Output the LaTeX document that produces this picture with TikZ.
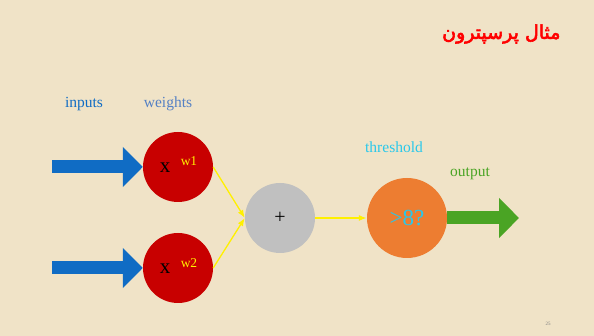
\documentclass[tikz,border=0pt]{standalone}
\usepackage{fontspec}
\setmainfont{Liberation Serif}
\newfontfamily\arabicfont[Script=Arabic,FakeBold=3]{DejaVu Sans}
\TeXXeTstate=1
\usetikzlibrary{arrows.meta,positioning}

\definecolor{paper}{RGB}{240,227,199}
\definecolor{inblue}{RGB}{16,108,196}
\definecolor{wblue}{RGB}{84,128,196}
\definecolor{neuronred}{RGB}{200,0,0}
\definecolor{sumgray}{RGB}{192,192,192}
\definecolor{threshorange}{RGB}{237,125,49}
\definecolor{threshcyan}{RGB}{40,200,235}
\definecolor{outgreen}{RGB}{74,164,36}
\definecolor{wyellow}{RGB}{255,240,0}

\begin{document}
\begin{tikzpicture}[x=1pt, y=1pt,
weight/.style={circle, fill=neuronred, minimum size=70pt, inner sep=0pt},
sum/.style={circle, fill=sumgray, minimum size=70pt, inner sep=0pt, font=\fontsize{20}{20}\selectfont},
thresh/.style={circle, fill=threshorange, minimum size=80pt, inner sep=0pt,
    text=threshcyan, font=\fontsize{23}{23}\selectfont},
caption/.style={font=\fontsize{15.5}{16}\selectfont},
bigarrow/.style={line width=13pt, -{Triangle[length=20pt,width=39pt]}},
wire/.style={draw=wyellow, line width=1.3pt, -{Latex[length=8pt,width=6pt]}}
]
\fill[paper] (0,0) rectangle (594,336);
\useasboundingbox (0,0) rectangle (594,336);

% title
\node[anchor=east, text=red, font=\fontsize{19}{19}\selectfont\arabicfont] (title) at (564,302)
    {\beginR مثال پرسپترون\endR};

% neurons
\node[weight] (w1) at (178,169) {};
\node[weight] (w2) at (178,68) {};
\node[sum] (sum) at (280,118) {+};
\node[thresh] (th) at (407,118) {>8?};

\node[font=\fontsize{21}{21}\selectfont] (x1) at (165,168) {x};
\node[font=\fontsize{21}{21}\selectfont] (x2) at (165,67) {x};
\node[text=wyellow, font=\fontsize{13.5}{14}\selectfont] (l1) at (189,175) {w1};
\node[text=wyellow, font=\fontsize{13.5}{14}\selectfont] (l2) at (189,73) {w2};

% labels
\node[caption, text=inblue] (inputs) at (84,232) {inputs};
\node[caption, text=wblue] (weights) at (168,232) {weights};
\node[caption, text=threshcyan] (threshold) at (394,189) {threshold};
\node[caption, text=outgreen] (output) at (470,162) {output};

% inputs and output
\coordinate (in1) at (52,169);
\coordinate (in2) at (52,68);
\coordinate (out) at (519,118);
\draw[bigarrow, inblue] (in1) -- (w1.west);
\draw[bigarrow, inblue] (in2) -- (w2.west);
\draw[bigarrow, outgreen] (th.east) -- (out);

% wiring
\draw[wire] (w1.east) -- (sum.west);
\draw[wire] (w2.east) -- (sum.west);
\draw[wire] (sum.east) -- (th.west);

\node[text=gray, font=\fontsize{5}{5}\selectfont] (page) at (548,12) {25};
\end{tikzpicture}
\end{document}
